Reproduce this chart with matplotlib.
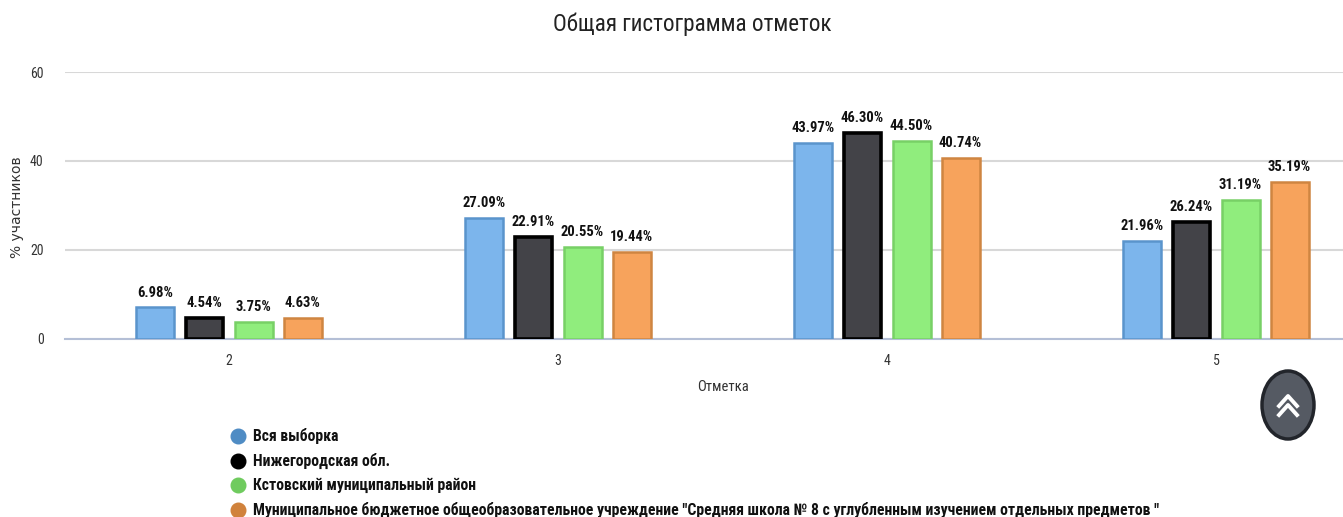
import numpy as np
import matplotlib
matplotlib.use('Agg')
import matplotlib.pyplot as plt
from matplotlib.lines import Line2D
from matplotlib.patches import Ellipse

plt.rcParams['font.family'] = ['Roboto Condensed', 'DejaVu Sans']

categories = ['2', '3', '4', '5']
series_names = ['Вся выборка', 'Нижегородская обл.', 'Кстовский муниципальный район',
                'Муниципальное бюджетное общеобразовательное учреждение "Средняя школа № 8 с углубленным изучением отдельных предметов "']
vsya = [6.98, 27.09, 43.97, 21.96]
oblast = [4.54, 22.91, 46.30, 26.24]
rayon = [3.75, 20.55, 44.50, 31.19]
shkola = [4.63, 19.44, 40.74, 35.19]

all_values = [vsya, oblast, rayon, shkola]
fills = ['#7cb5ec', '#434348', '#90ed7d', '#f7a35c']
edges = ['#5a94cc', '#000000', '#78d066', '#cf8541']
edge_widths = [1.8, 2.6, 1.8, 1.8]
legend_colors = ['#4f8cc4', '#000000', '#6fcb5e', '#d0823c']

W, H = 1343, 517
fig = plt.figure(figsize=(W / 100, H / 100), dpi=100)

# ось шире картинки: правый край обрезан как в оригинале
ax = fig.add_axes([64.5 / W, 1 - 338.5 / H, 1316 / W, 266.5 / H])
ax.set_xlim(-0.5, 3.5)
ax.set_ylim(0, 60)

x = np.arange(len(categories))
offsets = [-74 / 329, -24.5 / 329, 24.5 / 329, 73.5 / 329]
bar_widths = [38 / 329, 37 / 329, 38 / 329, 38 / 329]

for vals, off, w, fc, ec, lw in zip(all_values, offsets, bar_widths, fills, edges, edge_widths):
    bars = ax.bar(x + off, vals, w, color=fc, edgecolor=ec, linewidth=lw, zorder=3)
    for b, v in zip(bars, vals):
        ax.annotate(f'{v:.2f}%', (b.get_x() + b.get_width() / 2, v), xytext=(0, 5.7),
                    textcoords='offset points', ha='center', va='bottom',
                    fontsize=10.5, fontweight='bold', color='#111111', zorder=4)

ax.set_yticks([0, 20, 40, 60])
ax.set_xticks(x)
ax.set_xticklabels(categories)
ax.tick_params(axis='both', length=0, labelsize=10, labelcolor='#333333')
ax.tick_params(axis='x', pad=11)
ax.tick_params(axis='y', pad=15)
ax.grid(axis='y', color='#d8d8d8', linewidth=1.5, zorder=0)
ax.set_axisbelow(True)
for s in ['top', 'right', 'left']:
    ax.spines[s].set_visible(False)
ax.spines['bottom'].set_color('#b4bfd6')
ax.spines['bottom'].set_linewidth(1.5)

fig.text(692 / W, 1 - 24 / H, 'Общая гистограмма отметок', ha='center', va='center',
         fontsize=16.7, color='#222222')
fig.text(723 / W, 1 - 387 / H, 'Отметка', ha='center', va='center', fontsize=10.5, color='#333333')
fig.text(17 / W, 1 - 207 / H, '% участников', rotation=90, ha='center', va='center',
         fontsize=10, color='#333333', family=['DejaVu Sans'])

# легенда
handles = [Line2D([], [], linestyle='none', marker='o', markersize=10.5, color=c) for c in legend_colors]
leg = fig.legend(handles, series_names, loc='upper left', bbox_to_anchor=(226 / W, 1 - 428.5 / H),
                 frameon=False, labelspacing=0.56, handletextpad=0.2,
                 borderpad=0, borderaxespad=0, handlelength=1.5,
                 prop={'size': 11.35, 'weight': 'bold'})
for t in leg.get_texts():
    t.set_color('#111111')

# кнопка "наверх"
btn = Ellipse((1288 / W, 1 - 405 / H), 52 / W, 68 / H, transform=fig.transFigure,
              facecolor='#555a63', edgecolor='#22252b', linewidth=2.5)
fig.add_artist(btn)
for yc in [396, 405]:
    fig.add_artist(Line2D(np.array([1279, 1288, 1297]) / W, 1 - np.array([yc + 10, yc, yc + 10]) / H,
                          color='white', linewidth=2.8, transform=fig.transFigure))

fig.savefig('out.png', dpi=100)
